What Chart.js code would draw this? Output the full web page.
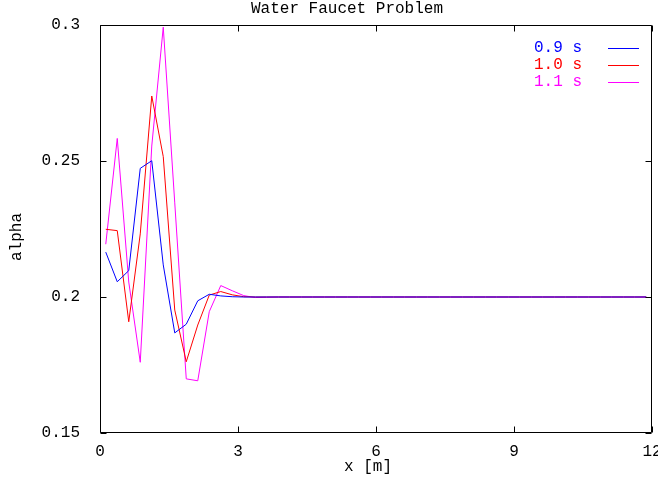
<!DOCTYPE html>
<html>
<head>
<meta charset="utf-8">
<script src="https://cdn.jsdelivr.net/npm/chart.js@4/dist/chart.umd.min.js"></script>
<style>
  body { margin: 0; background: #fff; }
  canvas { display: block; }
</style>
</head>
<body>
<canvas id="canvas" width="658" height="483"></canvas>
<script>
var FONT = "Liberation Mono";

var xs = [0.125, 0.375, 0.625, 0.875, 1.125, 1.375, 1.625, 1.875, 2.125, 2.375, 2.625, 2.875,
          3.125, 3.375, 3.625, 3.875, 4.125, 4.375, 4.625, 4.875, 5.125, 5.375, 5.625, 5.875,
          6.125, 6.375, 6.625, 6.875, 7.125, 7.375, 7.625, 7.875, 8.125, 8.375, 8.625, 8.875,
          9.125, 9.375, 9.625, 9.875, 10.125, 10.375, 10.625, 10.875, 11.125, 11.375, 11.625, 11.875];

var alpha09 = [0.2165, 0.2056, 0.2097, 0.2473, 0.2501, 0.2118, 0.1868, 0.1900, 0.1986, 0.2010, 0.2004, 0.2001,
               0.2, 0.2, 0.2, 0.2, 0.2, 0.2, 0.2, 0.2, 0.2, 0.2, 0.2, 0.2,
               0.2, 0.2, 0.2, 0.2, 0.2, 0.2, 0.2, 0.2, 0.2, 0.2, 0.2, 0.2,
               0.2, 0.2, 0.2, 0.2, 0.2, 0.2, 0.2, 0.2, 0.2, 0.2, 0.2, 0.2];

var alpha10 = [0.2249, 0.2244, 0.1909, 0.2232, 0.2739, 0.2516, 0.1952, 0.1762, 0.1897, 0.2007, 0.2020, 0.2008,
               0.2001, 0.2, 0.2, 0.2, 0.2, 0.2, 0.2, 0.2, 0.2, 0.2, 0.2, 0.2,
               0.2, 0.2, 0.2, 0.2, 0.2, 0.2, 0.2, 0.2, 0.2, 0.2, 0.2, 0.2,
               0.2, 0.2, 0.2, 0.2, 0.2, 0.2, 0.2, 0.2, 0.2, 0.2, 0.2, 0.2];

var alpha11 = [0.2194, 0.2583, 0.2055, 0.1760, 0.2555, 0.2992, 0.2346, 0.1699, 0.1692, 0.1946, 0.2042, 0.2023,
               0.2005, 0.1998, 0.1999, 0.2, 0.2, 0.2, 0.2, 0.2, 0.2, 0.2, 0.2, 0.2,
               0.2, 0.2, 0.2, 0.2, 0.2, 0.2, 0.2, 0.2, 0.2, 0.2, 0.2, 0.2,
               0.2, 0.2, 0.2, 0.2, 0.2, 0.2, 0.2, 0.2, 0.2, 0.2, 0.2, 0.2];

var seriesLabels = ["0.9 s", "1.0 s", "1.1 s"];
var seriesColors = ["#0000ff", "#ff0000", "#ff00ff"];
var xTicks = [0, 3, 6, 9, 12];
var yTicks = [0.15, 0.2, 0.25, 0.3];

function pts(ys) {
    return xs.map(function (x, i) { return { x: x, y: ys[i] }; });
}

// gnuplot style frame: box, inward ticks on all sides, key, titles
var gnuFrame = {
    id: "gnuFrame",
    afterDraw: function (chart) {
        var c = chart.ctx;
        var a = chart.chartArea;
        var sx = chart.scales.x, sy = chart.scales.y;
        var L = Math.round(a.left) + 0.5, R = Math.round(a.right) - 0.5;
        var T = Math.round(a.top) + 0.5, B = Math.round(a.bottom) - 0.5;
        c.save();
        c.strokeStyle = "#000";
        c.lineWidth = 1;
        c.beginPath();
        c.rect(L, T, R - L, B - T);
        xTicks.forEach(function (v) {
            var px = Math.round(sx.getPixelForValue(v)) + 0.5;
            c.moveTo(px, B); c.lineTo(px, B - 6);
            c.moveTo(px, T); c.lineTo(px, T + 6);
        });
        yTicks.forEach(function (v) {
            var py = Math.round(sy.getPixelForValue(v)) + 0.5;
            c.moveTo(L, py); c.lineTo(L + 6, py);
            c.moveTo(R, py); c.lineTo(R - 6, py);
        });
        c.stroke();

        c.font = "16px '" + FONT + "'";
        c.textBaseline = "middle";
        c.fillStyle = "#000";
        c.textAlign = "center";
        c.fillText("Water Faucet Problem", 347, 9);
        c.fillText("x [m]", 368, 467);
        c.save();
        c.translate(17, 237);
        c.rotate(-Math.PI / 2);
        c.fillText("alpha", 0, 0);
        c.restore();

        // key
        chart.data.datasets.forEach(function (ds, i) {
            var y = 48 + i * 17;
            c.textAlign = "right";
            c.fillStyle = ds.borderColor;
            c.fillText(ds.label, 582, y);
            c.strokeStyle = ds.borderColor;
            c.beginPath();
            c.moveTo(608, y + 0.5);
            c.lineTo(639, y + 0.5);
            c.stroke();
        });
        c.restore();
    }
};

var config = {
    type: "line",
    data: {
        datasets: [{
            label: seriesLabels[0],
            data: pts(alpha09),
            borderColor: seriesColors[0],
            borderWidth: 1,
            pointRadius: 0,
            fill: false
        }, {
            label: seriesLabels[1],
            data: pts(alpha10),
            borderColor: seriesColors[1],
            borderWidth: 1,
            pointRadius: 0,
            fill: false
        }, {
            label: seriesLabels[2],
            data: pts(alpha11),
            borderColor: seriesColors[2],
            borderWidth: 1,
            pointRadius: 0,
            fill: false
        }]
    },
    options: {
        responsive: false,
        animation: false,
        devicePixelRatio: 1,
        layout: { padding: { top: 25, right: 6, left: 0, bottom: 0 } },
        plugins: {
            legend: { display: false },
            tooltip: { enabled: false }
        },
        scales: {
            x: {
                type: "linear",
                min: 0,
                max: 12,
                afterBuildTicks: function (s) { s.ticks = xTicks.map(function (v) { return { value: v }; }); },
                afterFit: function (s) { s.height = 50; s.paddingLeft = 0; s.paddingRight = 0; },
                grid: { display: false, drawTicks: false },
                border: { display: false },
                ticks: {
                    padding: 9,
                    maxRotation: 0,
                    color: "#000",
                    font: { family: FONT, size: 16 },
                    callback: function (v) { return String(v); }
                }
            },
            y: {
                type: "linear",
                min: 0.15,
                max: 0.3,
                afterBuildTicks: function (s) { s.ticks = yTicks.map(function (v) { return { value: v }; }); },
                afterFit: function (s) { s.width = 100; s.paddingTop = 0; s.paddingBottom = 0; },
                grid: { display: false, drawTicks: false },
                border: { display: false },
                ticks: {
                    padding: 20,
                    color: "#000",
                    font: { family: FONT, size: 16 },
                    callback: function (v) { return String(+v.toFixed(2)); }
                }
            }
        }
    },
    plugins: [gnuFrame]
};

var ctx;
var faucetChart;

window.onload = function main() {
    ctx = document.getElementById("canvas").getContext("2d");
    faucetChart = new Chart(ctx, config);
};
</script>
</body>
</html>
